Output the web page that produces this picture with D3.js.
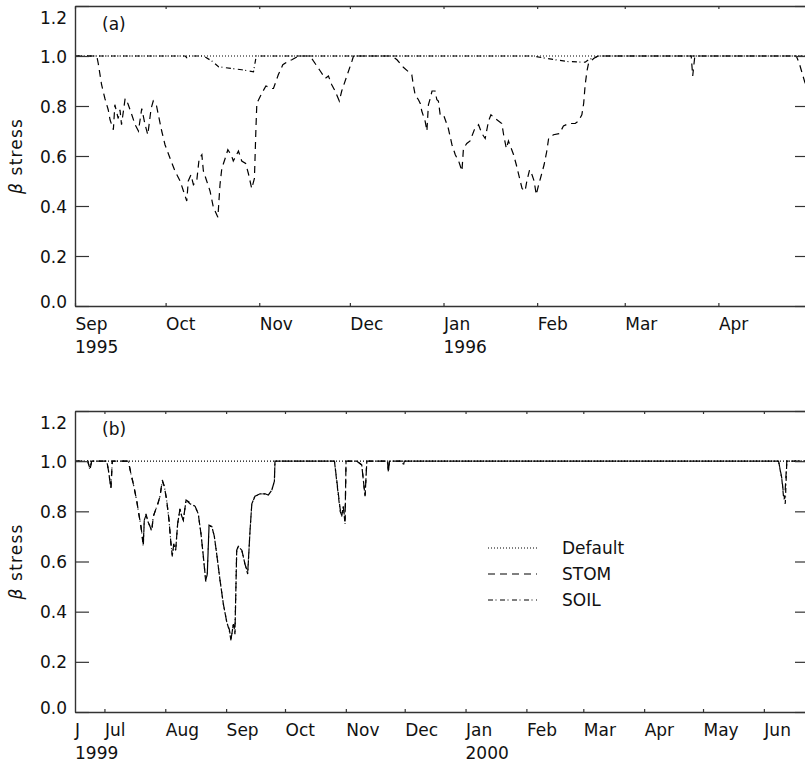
<!DOCTYPE html>
<html><head><meta charset="utf-8">
<script src="https://cdn.jsdelivr.net/npm/d3@7"></script>
<style>
body{margin:0;background:#fff}
text{font-family:'DejaVu Sans',sans-serif;font-size:17px;fill:#111}
</style>
</head><body>
<svg id="c" width="805" height="765"></svg>
<script>
// ---------- DATA ----------
const yTicks = [0, 0.2, 0.4, 0.6, 0.8, 1.0, 1.2];

// Panel (a): Sep 1995 - Apr 1996 ; x = days after 1 Sep 1995
const monthLabelsA = ["Sep","Oct","Nov","Dec","Jan","Feb","Mar","Apr"];
const yearLabelsA = [["1995","1995-09-01"],["1996","1996-01-01"]];
const defaultDaysA = [0, 243];
const defaultA = [1.0, 1.0];
const stomDaysA = [0,7.2,7.7,8.8,9.9,11.0,11.6,12.7,13.2,14.3,14.9,15.4,16.6,17.5,18.8,19.9,21.0,22.1,23.2,24.1,25.2,25.9,27.0,28.7,29.8,31.5,33.1,34.8,35.9,37.0,37.5,38.4,39.2,40.3,41.1,42.0,42.5,43.6,44.7,45.8,47.3,48.0,48.6,49.7,50.6,51.7,52.4,54.1,55.2,56.5,57.4,58.5,59.4,59.9,60.2,61.8,63.2,65.2,65.7,67.3,68.8,70.7,71.8,74,77.8,79.5,81.2,82.8,83.9,85.0,86.1,87.5,88.3,90.0,91.7,92.2,104.9,106.6,108.7,111.5,112.0,112.6,113.7,114.3,114.8,115.9,116.5,117.0,117.6,118.2,119.2,119.8,120.3,120.9,122.0,123.6,124.8,125.9,127.0,128.1,128.6,129.7,130.8,132.2,133.6,134.7,135.8,136.9,137.7,139.1,141.3,141.9,142.8,143.5,145.2,146.1,147.2,148.0,149.0,149.6,150.5,151.3,152.0,152.7,153.5,154.3,155.3,156.2,156.8,158.4,160.4,161.7,163.4,165.6,166.7,167.8,168.4,168.9,169.5,170.0,171.7,173.3,204.0,204.5,205.2,238.8,239.8,241.5,243];
const stomA = [1.0,1.0,0.97,0.885,0.83,0.785,0.745,0.705,0.805,0.75,0.785,0.725,0.83,0.81,0.765,0.725,0.70,0.79,0.725,0.685,0.79,0.82,0.80,0.70,0.645,0.59,0.54,0.50,0.46,0.42,0.50,0.525,0.485,0.50,0.59,0.605,0.54,0.50,0.46,0.395,0.355,0.485,0.55,0.59,0.625,0.605,0.58,0.62,0.58,0.57,0.53,0.47,0.51,0.71,0.81,0.85,0.88,0.87,0.87,0.925,0.965,0.98,0.985,1.0,1.0,0.97,0.94,0.91,0.92,0.885,0.86,0.82,0.86,0.92,0.98,1.0,1.0,0.985,0.955,0.925,0.885,0.845,0.825,0.81,0.78,0.74,0.70,0.805,0.83,0.86,0.86,0.825,0.82,0.765,0.765,0.71,0.645,0.605,0.58,0.54,0.63,0.65,0.66,0.705,0.725,0.69,0.67,0.74,0.765,0.75,0.73,0.685,0.63,0.66,0.605,0.565,0.51,0.47,0.46,0.50,0.545,0.525,0.50,0.445,0.485,0.52,0.565,0.62,0.67,0.685,0.69,0.72,0.73,0.73,0.74,0.765,0.81,0.885,0.94,0.97,0.99,1.0,1.0,0.92,1.0,1.0,0.97,0.90,0.85];
const soilDaysA = [0,36.5,37.0,37.6,42.5,45.3,47.5,51.9,55.2,59.1,60.0,151.5,156.2,162.9,168.9,170.0,173.3,243];
const soilA = [1,1,0.993,1,1,0.98,0.957,0.95,0.945,0.937,1,1,0.99,0.978,0.975,0.985,1,1];

// Panel (b): mid Jun 1999 - Jun 2000 ; x = days after 16 Jun 1999
const monthLabelsB = ["Jul","Aug","Sep","Oct","Nov","Dec","Jan","Feb","Mar","Apr","May","Jun"];
const firstLabelB = "J";
const yearLabelsB = [["1999","1999-06-16"],["2000","2000-01-01"]];
const defaultDaysB = [0, 374];
const defaultB = [1.0, 1.0];
const soilDaysB = [0,6.5,7.6,8.5,16.2,17.0,18.3,19.0,27.2,28.5,29.7,31.4,32.3,33.6,34.8,35.3,36.2,37.1,38.2,39.1,39.9,40.8,42.2,43.3,44.5,45.5,46.7,47.9,48.9,49.6,50.3,51.3,52.3,53.5,54.4,55.2,56.6,58.6,61.2,62.8,64.2,65.4,66.6,67.4,68.3,69.7,71.0,72.2,73.9,75.6,77.3,78.6,79.5,80.7,81.5,82.4,83.2,85.0,86.6,88.0,89.2,90.1,91.7,94.3,96.8,98.5,100.3,101.6,101.9,132.2,135.1,135.9,136.7,137.6,138.1,143.6,146.1,147.8,148.7,159.2,159.7,160.2,166.8,167.3,167.8,358.5,360.2,361.0,361.9,362.7,374];
const soilB = [1,1,0.965,1,1,0.965,0.895,1,1,0.95,0.91,0.845,0.80,0.74,0.66,0.765,0.785,0.76,0.74,0.725,0.78,0.80,0.83,0.86,0.92,0.90,0.845,0.765,0.67,0.625,0.67,0.645,0.75,0.81,0.78,0.765,0.845,0.83,0.82,0.79,0.71,0.62,0.525,0.55,0.74,0.74,0.70,0.63,0.525,0.43,0.36,0.325,0.285,0.355,0.32,0.645,0.66,0.645,0.59,0.55,0.725,0.83,0.86,0.87,0.87,0.865,0.885,0.92,1.0,1,0.80,0.785,0.82,0.75,1,1,0.985,0.86,1,1,0.957,1,1,0.98,1,1,0.925,0.86,0.83,1,1];
const stomDaysB = [0,6.5,7.6,8.5,16.2,17.0,18.3,19.0,27.2,28.5,29.7,31.4,32.3,33.6,34.8,35.3,36.2,37.1,38.2,39.1,39.9,40.8,42.2,43.3,44.5,45.5,46.7,47.9,48.9,49.6,50.3,51.3,52.3,53.5,54.4,55.2,56.6,58.6,61.2,62.8,64.2,65.4,66.6,67.4,68.3,69.7,71.0,72.2,73.9,75.6,77.3,78.6,79.5,80.7,81.5,82.4,83.2,85.0,86.6,88.0,89.2,90.1,91.7,94.3,96.8,98.5,100.3,101.6,101.9,132.2,135.1,135.9,136.7,137.6,138.1,143.6,146.1,147.8,148.7,159.2,159.7,160.2,358.5,360.2,361.0,361.6,362.7,374];
const stomB = [1,1,0.97,1,1,0.965,0.89,1,1,0.95,0.91,0.845,0.80,0.74,0.67,0.765,0.79,0.76,0.74,0.72,0.78,0.80,0.83,0.86,0.925,0.90,0.845,0.765,0.67,0.62,0.67,0.645,0.75,0.81,0.78,0.765,0.845,0.835,0.82,0.79,0.71,0.62,0.52,0.55,0.745,0.74,0.70,0.63,0.525,0.43,0.36,0.33,0.29,0.35,0.31,0.645,0.66,0.645,0.59,0.555,0.725,0.83,0.86,0.87,0.87,0.865,0.885,0.92,1.0,1,0.81,0.78,0.82,0.76,1,1,0.985,0.86,1,1,0.957,1,1,0.93,0.87,0.85,1,1];

const legendNames = ["Default","STOM","SOIL"];

// ---------- STYLE ----------
const W = 805, H = 765, L = 75, R = 809;
const dashes = {Default:"1,2", STOM:"7,5", SOIL:"5,2.5,1,3.5"};
const axisColor = "#333";

const svg = d3.select("#c");
const parse = d3.utcParse("%Y-%m-%d");

function drawPanel(p, idx) {
  const start = parse(p.start), end = parse(p.end);
  const x = d3.scaleUtc().domain([start, end]).range([L, R]);
  const y = d3.scaleLinear().domain([0, 1.2]).range([p.bottom, p.top]);
  const toDate = d => new Date(start.getTime() + d * 864e5);
  const g = svg.append("g");

  g.append("clipPath").attr("id", "clip" + idx).append("rect")
    .attr("x", L).attr("y", p.top).attr("width", R - L).attr("height", p.bottom - p.top);

  const line = d3.line().x(d => x(toDate(d[0]))).y(d => y(d[1]));
  p.series.forEach(s => {
    g.append("path").datum(d3.zip(s.days, s.vals))
      .attr("clip-path", `url(#clip${idx})`)
      .attr("d", line).attr("fill", "none").attr("stroke", "#000")
      .attr("stroke-width", 1.2).attr("stroke-dasharray", dashes[s.name]);
  });

  const months = d3.utcMonth.range(start, end);
  const bottom = g.append("g").attr("transform", `translate(0,${p.bottom})`)
    .call(d3.axisBottom(x).tickValues(months).tickSizeInner(-3).tickSizeOuter(0)
      .tickFormat((d, i) => p.monthLabels[i]));
  bottom.selectAll("text").attr("y", 24).attr("dy", null).attr("text-anchor", "start").attr("x", 0);
  g.append("g").attr("transform", `translate(0,${p.top})`)
    .call(d3.axisTop(x).tickValues(months).tickSizeInner(-3).tickSizeOuter(0).tickFormat(""));
  const left = g.append("g").attr("transform", `translate(${L},0)`)
    .call(d3.axisLeft(y).tickValues(yTicks).tickSizeInner(-14).tickSizeOuter(0).tickPadding(8)
      .tickFormat(d3.format(".1f")));
  left.selectAll(".tick text").attr("dy", d => d === 1.2 ? "1.0em" : (d === 0 ? "0.1em" : "0.36em"));
  g.append("g").attr("transform", `translate(${R},0)`)
    .call(d3.axisRight(y).tickValues(yTicks).tickSizeInner(-14).tickSizeOuter(0).tickFormat(""));
  g.selectAll(".domain").attr("stroke", axisColor).attr("stroke-width", 1.4);
  g.selectAll(".tick line").attr("stroke", axisColor).attr("stroke-width", 1.2);
  g.selectAll(".tick text").attr("font-size", 17).attr("font-family", "'DejaVu Sans',sans-serif").attr("fill", "#111");

  if (p.firstLabel) {
    g.append("text").attr("x", L).attr("y", p.bottom + 24).text(p.firstLabel);
  }
  p.yearLabels.forEach(([t, d]) => {
    g.append("text").attr("x", x(parse(d))).attr("y", p.bottom + 47).text(t);
  });

  g.append("text").attr("x", 102).attr("y", p.top + 24).text(p.tag);

  const yl = g.append("text").attr("transform", `translate(22,${(p.top + p.bottom) / 2}) rotate(-90)`)
    .attr("text-anchor", "middle").attr("letter-spacing", "1.2px");
  yl.append("tspan").attr("font-style", "italic").text("β");
  yl.append("tspan").text(" stress");
}

drawPanel({start:"1995-09-01", end:"1996-05-01", top:6, bottom:306, tag:"(a)",
  monthLabels: monthLabelsA, yearLabels: yearLabelsA,
  series:[{name:"Default", days:defaultDaysA, vals:defaultA},
          {name:"STOM", days:stomDaysA, vals:stomA},
          {name:"SOIL", days:soilDaysA, vals:soilA}]}, 0);

drawPanel({start:"1999-06-16", end:"2000-06-24", top:411, bottom:712, tag:"(b)",
  monthLabels: monthLabelsB, yearLabels: yearLabelsB, firstLabel: firstLabelB,
  series:[{name:"Default", days:defaultDaysB, vals:defaultB},
          {name:"STOM", days:stomDaysB, vals:stomB},
          {name:"SOIL", days:soilDaysB, vals:soilB}]}, 1);

// legend
const leg = svg.append("g");
legendNames.forEach((n, i) => {
  const yy = 548 + i * 26;
  leg.append("line").attr("x1", 488).attr("x2", 537).attr("y1", yy).attr("y2", yy)
    .attr("stroke", "#000").attr("stroke-width", 1.2).attr("stroke-dasharray", dashes[n]);
  leg.append("text").attr("x", 562).attr("y", yy + 6).text(n);
});
</script>
</body></html>
